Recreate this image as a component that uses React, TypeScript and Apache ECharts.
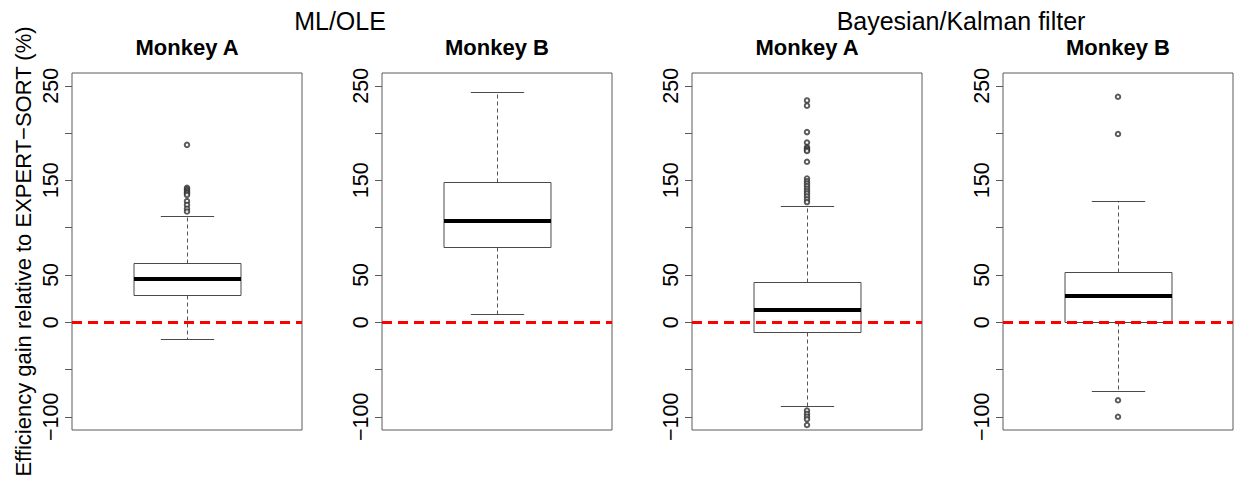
import React, { useEffect, useRef } from "react";
import * as echarts from "echarts";

const FONT = "'Liberation Sans', Arial, Helvetica, sans-serif";

// Titles
const groupTitles = ["ML/OLE", "Bayesian/Kalman filter"];
const panelTitles = ["Monkey A", "Monkey B", "Monkey A", "Monkey B"];
const yAxisTitle = "Efficiency gain relative to EXPERT\u2212SORT (%)";

// Y axis ticks and labels
const yTickValues = [-100, -50, 0, 50, 100, 150, 200, 250];
const yLabelValues = [-100, 0, 50, 150, 250];
const yMin = -114;
const yMax = 263.5;

// Box statistics: [lower whisker, Q1, median, Q3, upper whisker]
const mlOleMonkeyA = [-17.7, 28.6, 45.5, 62.4, 112.8];
const mlOleMonkeyB = [8.5, 80, 106.9, 148.5, 243];
const kalmanMonkeyA = [-88.4, -10.6, 12.7, 42.6, 123];
const kalmanMonkeyB = [-72.7, 0.3, 27.8, 53.2, 128];

// Outliers
const mlOleMonkeyAOutliers = [187.5, 142, 140.5, 139, 137.5, 136, 134.5, 128, 124, 120, 117];
const mlOleMonkeyBOutliers: number[] = [];
const kalmanMonkeyAOutliers = [
  234.5, 229, 201, 190, 185, 183.5, 182, 181, 169.6, 152, 149, 146.5, 144, 141, 138.5, 136, 133, 130, 127,
  -93.5, -97, -99.9, -102.6, -108.7,
];
const kalmanMonkeyBOutliers = [238.4, 199, -82.5, -100];

const boxes = [mlOleMonkeyA, mlOleMonkeyB, kalmanMonkeyA, kalmanMonkeyB];
const outlierSets = [mlOleMonkeyAOutliers, mlOleMonkeyBOutliers, kalmanMonkeyAOutliers, kalmanMonkeyBOutliers];

// Layout
const gridLefts = [72, 382, 692, 1003];
const gridWidth = 230;
const gridTop = 73;
const gridHeight = 357;
const groupCenters = [340, 961];

const frameColor = "#5a5a5a";

function fmt(v: number) {
  return v < 0 ? "\u2212" + Math.abs(v) : String(v);
}

function renderBox(params: any, api: any) {
  const x = api.value(0);
  const band = api.size([1, 0])[0];
  const bh = band * 0.2326;
  const ch = band * 0.116;
  const pLo = api.coord([x, api.value(1)]);
  const pQ1 = api.coord([x, api.value(2)]);
  const pMed = api.coord([x, api.value(3)]);
  const pQ3 = api.coord([x, api.value(4)]);
  const pHi = api.coord([x, api.value(5)]);
  const cx = Math.round(pMed[0]) + 0.5;
  const r = (v: number) => Math.round(v) + 0.5;
  const grey = "#4a4a4a";
  return {
    type: "group",
    children: [
      {
        type: "line",
        shape: { x1: cx, y1: r(pQ3[1]), x2: cx, y2: r(pHi[1]) },
        style: { stroke: "#555", lineWidth: 1, lineDash: [4, 3] },
      },
      {
        type: "line",
        shape: { x1: cx, y1: r(pQ1[1]), x2: cx, y2: r(pLo[1]) },
        style: { stroke: "#555", lineWidth: 1, lineDash: [4, 3] },
      },
      {
        type: "line",
        shape: { x1: cx - ch, y1: r(pHi[1]), x2: cx + ch, y2: r(pHi[1]) },
        style: { stroke: grey, lineWidth: 1 },
      },
      {
        type: "line",
        shape: { x1: cx - ch, y1: r(pLo[1]), x2: cx + ch, y2: r(pLo[1]) },
        style: { stroke: grey, lineWidth: 1 },
      },
      {
        type: "rect",
        shape: { x: cx - bh, y: r(pQ3[1]), width: bh * 2, height: r(pQ1[1]) - r(pQ3[1]) },
        style: { fill: "none", stroke: grey, lineWidth: 1 },
      },
      {
        type: "line",
        shape: { x1: cx - bh, y1: Math.round(pMed[1]), x2: cx + bh, y2: Math.round(pMed[1]) },
        style: { stroke: "#000", lineWidth: 4 },
      },
    ],
  };
}

export default function App() {
  const ref = useRef<HTMLDivElement>(null);

  useEffect(() => {
    if (!ref.current) return;
    const chart = echarts.init(ref.current, null, { renderer: "svg" });

    const grids = gridLefts.map((left) => ({
      left,
      top: gridTop,
      width: gridWidth,
      height: gridHeight,
      show: true,
      borderColor: frameColor,
      borderWidth: 1,
      backgroundColor: "transparent",
      containLabel: false,
    }));

    const xAxes = gridLefts.map((_, i) => ({
      type: "category",
      gridIndex: i,
      data: [""],
      axisLine: { show: false },
      axisTick: { show: false },
      axisLabel: { show: false },
      splitLine: { show: false },
    }));

    const yAxes = gridLefts.map((_, i) => ({
      type: "value",
      gridIndex: i,
      min: yMin,
      max: yMax,
      axisLine: { show: false },
      splitLine: { show: false },
      axisTick: {
        show: true,
        inside: false,
        length: 7,
        customValues: yTickValues,
        lineStyle: { color: frameColor, width: 1 },
      },
      axisLabel: {
        show: true,
        rotate: 90,
        margin: 10,
        customValues: yLabelValues,
        formatter: (v: number) => fmt(v),
        fontSize: 21.5,
        color: "#000",
        fontFamily: FONT,
      },
      ...(i === 0
        ? {
            name: yAxisTitle,
            nameLocation: "middle",
            nameRotate: 90,
            nameGap: 38,
            nameTextStyle: { fontSize: 22, color: "#000", fontFamily: FONT },
          }
        : {}),
    }));

    const series: any[] = [];
    boxes.forEach((b, i) => {
      series.push({
        type: "custom",
        xAxisIndex: i,
        yAxisIndex: i,
        renderItem: renderBox,
        encode: { x: 0, y: [1, 2, 3, 4, 5] },
        data: [[0, ...b]],
        z: 2,
        silent: true,
      });
      series.push({
        type: "scatter",
        xAxisIndex: i,
        yAxisIndex: i,
        symbol: "emptyCircle",
        symbolSize: 4.5,
        itemStyle: { color: "#333", borderColor: "#333", borderWidth: 1 },
        data: outlierSets[i].map((v) => [0, v]),
        z: 3,
        silent: true,
        markLine: {
          silent: true,
          symbol: ["none", "none"],
          label: { show: false },
          lineStyle: { color: "#ff0000", type: [10, 6], width: 3 },
          data: [{ yAxis: 0 }],
          z: 4,
        },
      });
    });

    const titles: any[] = [];
    groupTitles.forEach((t, i) => {
      titles.push({
        text: t,
        left: groupCenters[i],
        top: 8,
        textAlign: "center",
        padding: 0,
        textStyle: { fontSize: 25, fontWeight: "normal", color: "#000", fontFamily: FONT },
      });
    });
    panelTitles.forEach((t, i) => {
      titles.push({
        text: t,
        left: gridLefts[i] + gridWidth / 2,
        top: 36,
        textAlign: "center",
        padding: 0,
        textStyle: { fontSize: 22, fontWeight: "bold", color: "#000", fontFamily: FONT },
      });
    });

    chart.setOption({
      animation: false,
      backgroundColor: "#fff",
      title: titles,
      grid: grids,
      xAxis: xAxes,
      yAxis: yAxes,
      series,
    });

    return () => chart.dispose();
  }, []);

  return (
    <div
      ref={ref}
      style={{ position: "fixed", left: 0, top: 0, width: 1237, height: 487 }}
    />
  );
}
